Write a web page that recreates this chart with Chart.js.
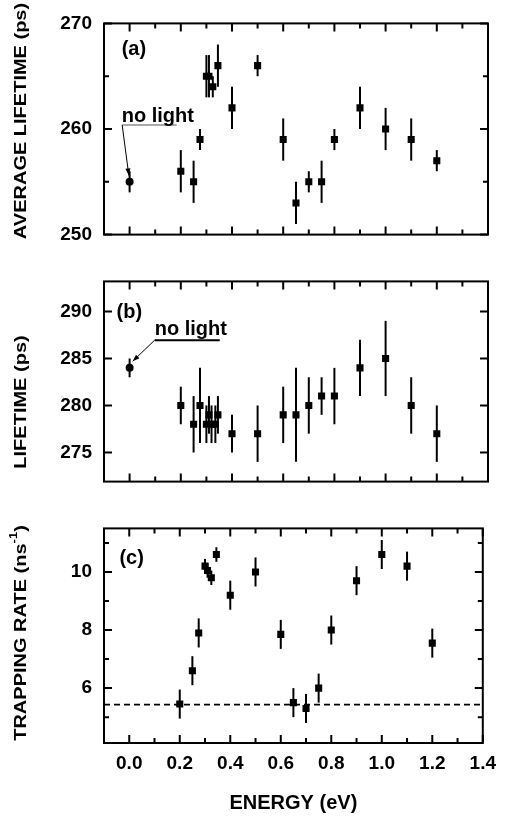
<!DOCTYPE html>
<html><head><meta charset="utf-8"><title>Lifetime vs energy</title>
<script src="https://cdn.jsdelivr.net/npm/chart.js@4.4.1/dist/chart.umd.min.js"></script>
<style>
html,body{margin:0;padding:0;background:#fff}
body{width:505px;height:818px;position:relative;overflow:hidden}
.panel{position:absolute;left:0;width:505px}
canvas{display:block}
</style></head><body>
<div class="panel" style="top:0px;height:258px"><canvas id="chartA" width="505" height="258"></canvas></div>
<div class="panel" style="top:258px;height:247px"><canvas id="chartB" width="505" height="247"></canvas></div>
<div class="panel" style="top:505px;height:313px"><canvas id="chartC" width="505" height="313"></canvas></div>
<script>
// ---------------- data ----------------
const xTickLabels = [0.0, 0.2, 0.4, 0.6, 0.8, 1.0, 1.2, 1.4];
const xMinorTicks = [0.1, 0.3, 0.5, 0.7, 0.9, 1.1, 1.3];

// (a) average lifetime (ps)
const energyA   = [0.2, 0.25, 0.275, 0.3, 0.31, 0.325, 0.345, 0.4, 0.5, 0.6, 0.65, 0.7, 0.75, 0.8, 0.9, 1.0, 1.1, 1.2];
const avgLifeA  = [256, 255, 259, 265, 265, 264, 266, 262, 266, 259, 253, 255, 255, 259, 262, 260, 259, 257];
const avgErrA   = [2, 2, 1, 2, 2, 1, 2, 2, 1, 2, 2, 1, 2, 1, 2, 2, 2, 1];
const noLightA  = [255];
const noLightErrA = [1];
const yTicksA = [250, 260, 270];
const yMinorA = [255, 265];

// (b) lifetime (ps)
const energyB   = [0.2, 0.25, 0.275, 0.3, 0.31, 0.32, 0.335, 0.345, 0.4, 0.5, 0.6, 0.65, 0.7, 0.75, 0.8, 0.9, 1.0, 1.1, 1.2];
const lifeB     = [280, 278, 280, 278, 279, 278, 278, 279, 277, 277, 279, 279, 280, 281, 281, 284, 285, 280, 277];
const lifeErrB  = [2, 3, 4, 2, 2, 2, 2, 2, 2, 3, 3, 5, 3, 2, 3, 3, 4, 3, 3];
const noLightB  = [284];
const noLightErrB = [1];
const yTicksB = [275, 280, 285, 290];

// (c) trapping rate (ns^-1)
const energyC   = [0.2, 0.25, 0.275, 0.3, 0.31, 0.325, 0.345, 0.4, 0.5, 0.6, 0.65, 0.7, 0.75, 0.8, 0.9, 1.0, 1.1, 1.2];
const rateC     = [5.45, 6.6, 7.9, 10.2, 10.05, 9.8, 10.6, 9.2, 10.0, 7.85, 5.5, 5.3, 6.0, 8.0, 9.7, 10.6, 10.2, 7.55];
const rateErrC  = [0.5, 0.5, 0.5, 0.25, 0.25, 0.25, 0.25, 0.5, 0.5, 0.5, 0.5, 0.5, 0.5, 0.5, 0.5, 0.5, 0.5, 0.5];
const noLightRate = [5.43];
const yTicksC = [6, 8, 10];
const yMinorC = [5, 7, 9, 11];

// ---------------- helpers ----------------
const FONT = "'Liberation Sans', Arial, Helvetica, sans-serif";
Chart.defaults.font.family = FONT;
Chart.defaults.color = '#000';

const pts = (xs, ys) => xs.map((v, i) => ({x: v, y: ys[i]}));

const panelDeco = {
  id: 'panelDeco',
  beforeDatasetsDraw(chart) {
    const {ctx, scales: {x, y}} = chart;
    ctx.save();
    ctx.strokeStyle = '#000';
    ctx.lineWidth = 2;
    chart.data.datasets.forEach(ds => {
      if (!ds.yErr) return;
      ds.data.forEach((p, i) => {
        const e = ds.yErr[i];
        if (!e) return;
        const px = x.getPixelForValue(p.x);
        ctx.beginPath();
        ctx.moveTo(px, y.getPixelForValue(p.y - e));
        ctx.lineTo(px, y.getPixelForValue(p.y + e));
        ctx.stroke();
      });
    });
    ctx.restore();
  },
  afterDatasetsDraw(chart, args, o) {
    const {ctx, chartArea: a, scales: {x, y}} = chart;
    ctx.save();
    ctx.strokeStyle = '#000';
    ctx.fillStyle = '#000';
    ctx.lineWidth = 2;
    // frame
    ctx.strokeRect(a.left, a.top, a.right - a.left, a.bottom - a.top);
    // inward ticks on all sides
    const xt = (vals, len) => vals.forEach(v => {
      const px = x.getPixelForValue(v);
      ctx.beginPath();
      ctx.moveTo(px, a.bottom); ctx.lineTo(px, a.bottom - len);
      ctx.moveTo(px, a.top); ctx.lineTo(px, a.top + len);
      ctx.stroke();
    });
    const yt = (vals, len) => vals.forEach(v => {
      const py = y.getPixelForValue(v);
      ctx.beginPath();
      ctx.moveTo(a.left, py); ctx.lineTo(a.left + len, py);
      ctx.moveTo(a.right, py); ctx.lineTo(a.right - len, py);
      ctx.stroke();
    });
    xt(o.xMajor || [], 8); xt(o.xMinor || [], 5);
    yt(o.yMajor || [], 8); yt(o.yMinor || [], 5);

    // leader lines / underlines
    (o.lines || []).forEach(l => {
      ctx.save();
      ctx.lineWidth = l.width || 1;
      ctx.strokeStyle = l.color || '#000';
      const p0 = [x.getPixelForValue(l.from[0]), y.getPixelForValue(l.from[1])];
      const p1 = [x.getPixelForValue(l.to[0]), y.getPixelForValue(l.to[1])];
      ctx.beginPath(); ctx.moveTo(p0[0], p0[1]); ctx.lineTo(p1[0], p1[1]); ctx.stroke();
      if (l.arrow) {
        const ang = Math.atan2(p1[1] - p0[1], p1[0] - p0[0]);
        const L = 7, W = 2.5;
        ctx.fillStyle = l.color || '#000';
        ctx.beginPath();
        ctx.moveTo(p1[0], p1[1]);
        ctx.lineTo(p1[0] - L * Math.cos(ang) + W * Math.sin(ang), p1[1] - L * Math.sin(ang) - W * Math.cos(ang));
        ctx.lineTo(p1[0] - L * Math.cos(ang) - W * Math.sin(ang), p1[1] - L * Math.sin(ang) + W * Math.cos(ang));
        ctx.closePath(); ctx.fill();
      }
      ctx.restore();
    });
    // text notes
    (o.notes || []).forEach(n => {
      ctx.save();
      ctx.font = 'bold ' + (n.size || 20) + 'px ' + FONT;
      ctx.textAlign = 'left';
      ctx.textBaseline = n.baseline || 'alphabetic';
      ctx.fillText(n.text, x.getPixelForValue(n.x), y.getPixelForValue(n.y));
      ctx.restore();
    });
    // rotated side title
    if (o.sideTitle) {
      const t = o.sideTitle;
      ctx.save();
      ctx.translate(t.cx, t.cy);
      ctx.rotate(-Math.PI / 2);
      ctx.scale(1, 0.86);
      ctx.textBaseline = 'middle';
      ctx.textAlign = 'left';
      const big = 'bold 20px ' + FONT, small = 'bold 13px ' + FONT;
      ctx.font = big;
      const w1 = ctx.measureText(t.text).width;
      let w2 = 0, w3 = 0;
      if (t.sup) { ctx.font = small; w2 = ctx.measureText(t.sup).width; ctx.font = big; w3 = ctx.measureText(t.after).width; }
      let sx = -(w1 + w2 + w3) / 2;
      ctx.fillText(t.text, sx, 0);
      if (t.sup) {
        ctx.font = small; ctx.fillText(t.sup, sx + w1, -8);
        ctx.font = big; ctx.fillText(t.after, sx + w1 + w2, 0);
      }
      ctx.restore();
    }
    ctx.restore();
  }
};

function yScale(min, max, ticks) {
  return {
    type: 'linear', min: min, max: max,
    grid: {display: false, drawTicks: false}, border: {display: false},
    afterBuildTicks: s => { s.ticks = ticks.map(v => ({value: v})); },
    afterFit: s => { s.width = 104; },
    ticks: {autoSkip: false, padding: 12, color: '#000', font: {size: 19, weight: 'bold'}}
  };
}
function xHidden() {
  return {type: 'linear', min: -0.1, max: 1.4, display: false};
}
const sq = {pointStyle: 'rect', pointRadius: 5, pointHoverRadius: 5, pointBackgroundColor: '#000', pointBorderWidth: 0, borderColor: '#000', showLine: false};
const circ = {pointStyle: 'circle', pointRadius: 4, pointHoverRadius: 4, pointBackgroundColor: '#000', pointBorderWidth: 0, borderColor: '#000', showLine: false};
const base = {responsive: false, animation: false, events: [], devicePixelRatio: 1};

// ---------------- panel (a) ----------------
new Chart(document.getElementById('chartA'), {
  type: 'scatter',
  data: {datasets: [
    Object.assign({label: 'E', data: pts(energyA, avgLifeA), yErr: avgErrA}, sq),
    Object.assign({label: 'no light', data: pts([0], noLightA), yErr: noLightErrA}, circ)
  ]},
  options: Object.assign({}, base, {
    layout: {padding: {top: 19, bottom: 11, left: 0, right: 17}},
    scales: {x: xHidden(), y: yScale(250, 270, yTicksA)},
    plugins: {legend: {display: false}, tooltip: {enabled: false},
      panelDeco: {
        xMajor: xTickLabels, xMinor: xMinorTicks, yMajor: yTicksA, yMinor: yMinorA,
        notes: [
          {text: '(a)', x: -0.031, y: 267.5, baseline: 'middle'},
          {text: 'no light', x: -0.031, y: 260.7}
        ],
        lines: [
          {from: [-0.029, 260.38], to: [0.184, 260.38], width: 1, color: '#555'},
          {from: [-0.029, 260.38], to: [-0.003, 255.6], width: 1, arrow: true}
        ],
        sideTitle: {text: 'AVERAGE LIFETIME (ps)', cx: 21, cy: 121}
      }}
  }),
  plugins: [panelDeco]
});

// ---------------- panel (b) ----------------
new Chart(document.getElementById('chartB'), {
  type: 'scatter',
  data: {datasets: [
    Object.assign({label: 'E', data: pts(energyB, lifeB), yErr: lifeErrB}, sq),
    Object.assign({label: 'no light', data: pts([0], noLightB), yErr: noLightErrB}, circ)
  ]},
  options: Object.assign({}, base, {
    layout: {padding: {top: 11, bottom: 6, left: 0, right: 17}},
    scales: {x: xHidden(), y: yScale(271.9, 293.2, yTicksB)},
    plugins: {legend: {display: false}, tooltip: {enabled: false},
      panelDeco: {
        xMajor: xTickLabels, xMinor: xMinorTicks, yMajor: yTicksB, yMinor: [],
        notes: [
          {text: '(b)', x: -0.051, y: 289.9, baseline: 'middle'},
          {text: 'no light', x: 0.098, y: 287.45}
        ],
        lines: [
          {from: [0.098, 286.95], to: [0.352, 286.95], width: 2},
          {from: [0.098, 286.95], to: [0.012, 284.7], width: 1, arrow: true}
        ],
        sideTitle: {text: 'LIFETIME (ps)', cx: 21, cy: 144}
      }}
  }),
  plugins: [panelDeco]
});

// ---------------- panel (c) ----------------
new Chart(document.getElementById('chartC'), {
  type: 'scatter',
  data: {datasets: [
    Object.assign({label: 'E', data: pts(energyC, rateC), yErr: rateErrC}, sq),
    {type: 'line', label: 'no light level', data: pts([-0.1, 1.4], [noLightRate[0], noLightRate[0]]),
      borderColor: '#000', borderWidth: 1.6, borderDash: [6, 4], pointRadius: 0, fill: false}
  ]},
  options: Object.assign({}, base, {
    layout: {padding: {top: 10, bottom: 0, left: 0, right: 17}},
    scales: {
      x: {
        type: 'linear', min: -0.1, max: 1.4,
        grid: {display: false, drawTicks: false}, border: {display: false},
        afterBuildTicks: s => { s.ticks = xTickLabels.map(v => ({value: v})); },
        afterFit: s => { s.height = 75; },
        ticks: {autoSkip: false, maxRotation: 0, padding: 9, color: '#000', font: {size: 19, weight: 'bold'},
          callback: v => Number(v).toFixed(1)},
        title: {display: true, text: 'ENERGY (eV)', color: '#000', font: {size: 20, weight: 'bold'}, padding: {top: 0, bottom: 3}}
      },
      y: yScale(4.11, 11.5, yTicksC)
    },
    plugins: {legend: {display: false}, tooltip: {enabled: false},
      panelDeco: {
        xMajor: xTickLabels, xMinor: xMinorTicks, yMajor: yTicksC, yMinor: yMinorC,
        notes: [
          {text: '(c)', x: -0.039, y: 10.47, baseline: 'middle'}
        ],
        sideTitle: {text: 'TRAPPING RATE (ns', sup: '-1', after: ')', cx: 21, cy: 128}
      }}
  }),
  plugins: [panelDeco]
});
</script>
</body></html>
